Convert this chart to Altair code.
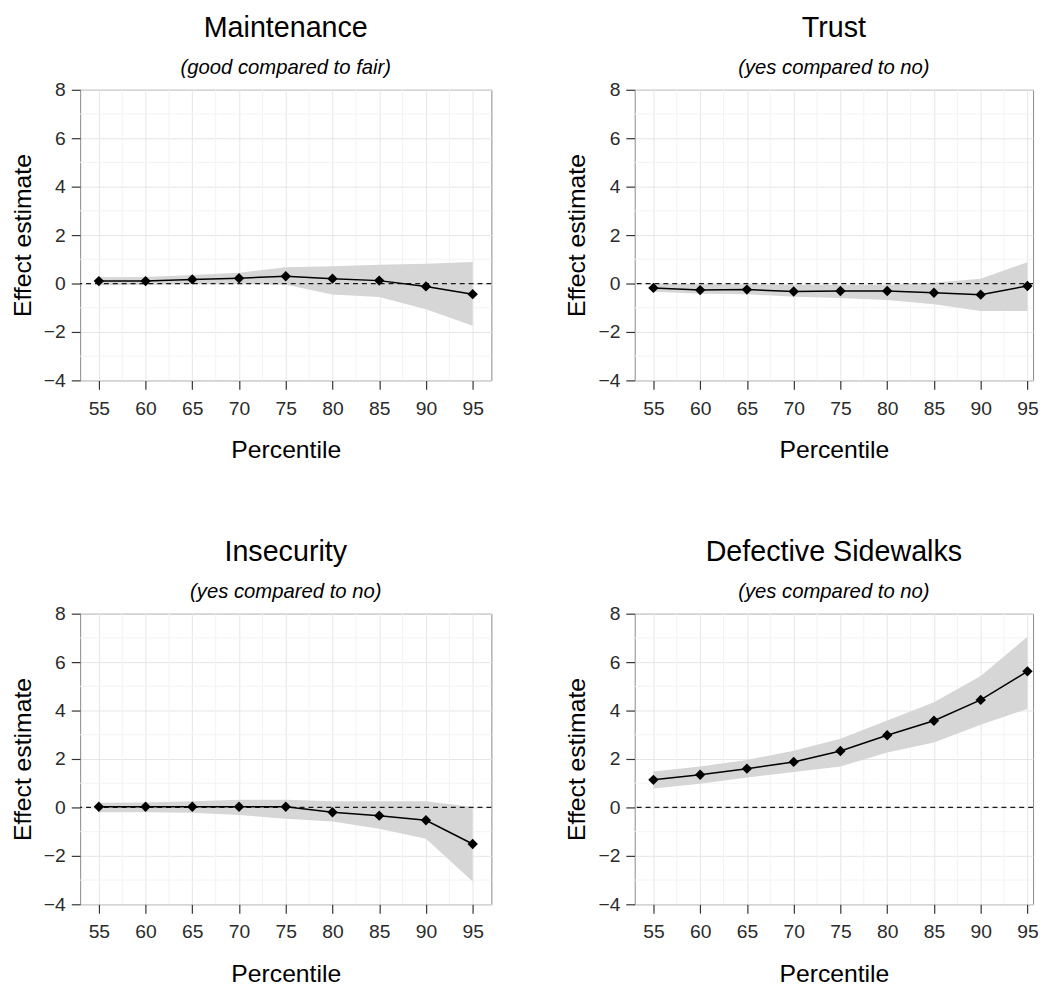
import altair as alt
import pandas as pd

# ---- data ----
percentiles = [55, 60, 65, 70, 75, 80, 85, 90, 95]

titles = ["Maintenance", "Trust", "Insecurity", "Defective Sidewalks"]
subtitles = ["(good compared to fair)", "(yes compared to no)",
             "(yes compared to no)", "(yes compared to no)"]

maint_est = [0.10, 0.10, 0.17, 0.22, 0.30, 0.20, 0.12, -0.12, -0.44]
maint_lo = [-0.07, -0.05, -0.02, -0.01, -0.05, -0.45, -0.56, -1.06, -1.74]
maint_hi = [0.26, 0.27, 0.35, 0.45, 0.67, 0.71, 0.78, 0.82, 0.89]

trust_est = [-0.18, -0.27, -0.25, -0.33, -0.31, -0.31, -0.38, -0.46, -0.10]
trust_lo = [-0.34, -0.42, -0.44, -0.55, -0.60, -0.68, -0.86, -1.13, -1.13]
trust_hi = [0.00, -0.03, -0.03, -0.06, -0.06, -0.06, 0.03, 0.20, 0.88]

insec_est = [0.03, 0.03, 0.03, 0.03, 0.03, -0.20, -0.34, -0.53, -1.51]
insec_lo = [-0.20, -0.20, -0.22, -0.31, -0.47, -0.58, -0.88, -1.29, -3.06]
insec_hi = [0.19, 0.20, 0.26, 0.32, 0.32, 0.25, 0.25, 0.25, 0.02]

sidew_est = [1.14, 1.35, 1.60, 1.88, 2.33, 2.98, 3.58, 4.44, 5.62]
sidew_lo = [0.78, 0.98, 1.24, 1.46, 1.69, 2.27, 2.68, 3.41, 4.07]
sidew_hi = [1.48, 1.69, 1.96, 2.34, 2.84, 3.59, 4.34, 5.43, 7.05]

x_ticks = [55, 60, 65, 70, 75, 80, 85, 90, 95]
x_minor = [57.5, 62.5, 67.5, 72.5, 77.5, 82.5, 87.5, 92.5]
y_ticks = [-4, -2, 0, 2, 4, 6, 8]
y_minor = [-3, -1, 1, 3, 5, 7]
reference_line = [0]

series = [
    (maint_est, maint_lo, maint_hi),
    (trust_est, trust_lo, trust_hi),
    (insec_est, insec_lo, insec_hi),
    (sidew_est, sidew_lo, sidew_hi),
]

FONT = "Liberation Sans"
ys = alt.Scale(domain=[-4, 8], nice=False, zero=False)
xa = alt.Axis(values=x_ticks, format="d", title="Percentile", grid=True)
ya = alt.Axis(values=y_ticks, format="d", title="Effect estimate", grid=True)


def panel(i, right=False):
    # right-hand panels are clipped at the page edge in the reference
    xs = alt.Scale(domain=[53, 95.6] if right else [53, 97], nice=False, zero=False)
    width = 403 if right else 416
    est, lo, hi = series[i]
    df = pd.DataFrame({"pct": percentiles, "est": est, "lo": lo, "hi": hi})
    base = alt.Chart(df)
    minx = alt.Chart(pd.DataFrame({"v": x_minor})).mark_rule(
        color="#f3f3f3", strokeWidth=1
    ).encode(x=alt.X("v:Q", scale=xs, axis=xa))
    miny = alt.Chart(pd.DataFrame({"v": y_minor})).mark_rule(
        color="#f3f3f3", strokeWidth=1
    ).encode(y=alt.Y("v:Q", scale=ys, axis=ya))
    band = base.mark_area(color="#d6d6d6", opacity=1).encode(
        x=alt.X("pct:Q", scale=xs, axis=xa),
        y=alt.Y("lo:Q", scale=ys, axis=ya),
        y2="hi:Q",
    )
    zero = alt.Chart(pd.DataFrame({"z": reference_line})).mark_rule(
        color="#1a1a1a", strokeWidth=1.3, strokeDash=[5, 4]
    ).encode(y=alt.Y("z:Q", scale=ys, axis=ya))
    line = base.mark_line(color="black", strokeWidth=1.5).encode(
        x=alt.X("pct:Q", scale=xs, axis=xa),
        y=alt.Y("est:Q", scale=ys, axis=ya),
    )
    pts = base.mark_point(shape="diamond", filled=True, color="black",
                          size=110, opacity=1).encode(
        x=alt.X("pct:Q", scale=xs, axis=xa),
        y=alt.Y("est:Q", scale=ys, axis=ya),
    )
    return alt.layer(minx, miny, band, zero, line, pts).properties(
        width=width, height=294,
        title=alt.TitleParams(
            text=titles[i], subtitle=subtitles[i],
            fontSize=29, fontWeight="normal", font=FONT, color="black",
            subtitleFont=FONT, subtitleFontSize=20.5,
            subtitleFontStyle="italic", subtitleColor="black",
            subtitlePadding=16, anchor="middle", frame="group", offset=1,
        ),
    )


row1 = alt.hconcat(panel(0), panel(1, True), spacing=71)
row2 = alt.hconcat(panel(2), panel(3, True), spacing=71)
chart = alt.vconcat(row1, row2, spacing=75).properties(
    padding={"left": 1, "top": 0, "right": 0, "bottom": 0}
).configure_view(
    stroke="#8a8a8a", strokeWidth=1
).configure_axis(
    domain=False, gridColor="#e6e6e6", gridWidth=1,
    tickColor="#333333", tickWidth=1.2, tickSize=9,
    labelFont=FONT, labelFontSize=19.5, labelColor="#2b2b2b",
    titleFont=FONT, titleFontSize=25, titleFontWeight="normal", titleColor="black",
).configure_axisX(
    labelPadding=10, titlePadding=21,
).configure_axisY(
    labelPadding=6, titlePadding=8.5,
)

chart.save("out.html", embed_options={"renderer": "svg", "actions": False})
